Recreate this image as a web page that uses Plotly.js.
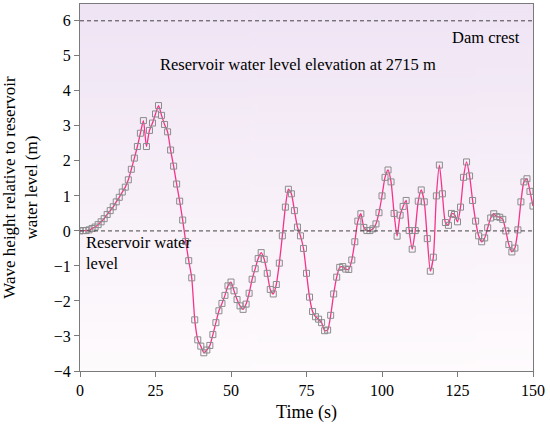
<!DOCTYPE html>
<html>
<head>
<meta charset="utf-8">
<script src="https://cdn.plot.ly/plotly-3.0.1.min.js"></script>
<style>html,body{margin:0;padding:0;background:#fff;}#chart{width:550px;height:426px;}</style>
</head>
<body>
<div id="chart"></div>
<script>
const timeSec = [0,1,2,3,4,5,6,7,8,9,10,11,12,13,14,15,16,17,18,19,20,
21,22,23,24,25,26,27,28,29,30,31,32,33,34,35,36,37,38,39,40,
41,42,43,44,45,46,47,48,49,50,51,52,53,54,55,56,57,58,59,60,
61,62,63,64,65,66,67,68,69,70,71,72,73,74,75,76,77,78,79,80,
81,82,83,84,85,86,87,88,89,90,91,92,93,94,95,96,97,98,99,100,
101,102,103,104,105,106,107,108,109,110,111,112,113,114,115,116,117,118,119,120,
121,122,123,124,125,126,127,128,129,130,131,132,133,134,135,136,137,138,139,140,
141,142,143,144,145,146,147,148,149,150];

const waveHeight = [0,
0.01,0.01,0.03,0.07,0.11,0.18,0.26,0.35,0.47,0.58,
0.69,0.83,0.96,1.11,1.25,1.46,1.76,2.08,2.41,2.79,
3.15,2.41,2.87,3.08,3.34,3.58,3.30,3.04,2.83,2.31,
1.85,1.34,0.85,0.31,-0.30,-0.85,-1.34,-2.54,-3.11,-3.29,
-3.48,-3.40,-3.27,-2.96,-2.62,-2.28,-2.07,-1.84,-1.57,-1.46,
-1.71,-1.96,-2.14,-2.24,-2.09,-1.78,-1.38,-1.08,-0.79,-0.62,
-0.81,-1.21,-1.67,-1.80,-1.53,-0.92,-0.14,0.68,1.19,1.06,
0.58,0.11,-0.14,-0.50,-1.21,-1.89,-2.30,-2.45,-2.52,-2.62,
-2.85,-2.83,-2.41,-1.80,-1.32,-1.04,-1.02,-1.09,-1.10,-0.83,
-0.31,0.28,0.49,0.10,0.01,0.01,0.06,0.20,0.52,1.00,
1.53,1.74,1.40,0.50,-0.15,0.45,0.70,0.87,0.01,-0.52,
0.01,0.85,1.17,0.83,-0.22,-1.15,-0.75,1.00,1.88,1.06,
0.24,0.16,0.50,0.47,0.26,0.68,1.53,1.97,1.57,0.87,
0.28,-0.14,-0.31,-0.20,0.09,0.37,0.49,0.41,0.39,0.33,
0.00,-0.39,-0.60,-0.49,0.03,0.83,1.40,1.49,1.13,0.71];

const xTicks = [0,25,50,75,100,125,150];
const yTicks = [-4,-3,-2,-1,0,1,2,3,4,5,6];
const damCrest = 6;
const reservoirLevel = 0;

// background gradient for the plot area
const cv = document.createElement('canvas');
cv.width = 4; cv.height = 256;
const ctx = cv.getContext('2d');
const g = ctx.createLinearGradient(0,0,0,256);
g.addColorStop(0,'#efe4f4');
g.addColorStop(0.55,'#f8f1f9');
g.addColorStop(1,'#fefbfd');
ctx.fillStyle = g; ctx.fillRect(0,0,4,256);
const bgURL = cv.toDataURL('image/png');

const font = 'Liberation Serif';

const trace = {
  x: timeSec, y: waveHeight,
  type: 'scatter', mode: 'lines+markers',
  line: {color:'#f5338a', width:1.3, shape:'spline', smoothing:0.6},
  marker: {symbol:'square-open', size:6, color:'#8c8c8c', line:{width:1, color:'#8c8c8c'}},
  hoverinfo: 'x+y'
};

const layout = {
  width: 550, height: 426,
  margin: {l:80, r:17, t:4, b:55},
  paper_bgcolor: '#ffffff',
  plot_bgcolor: 'rgba(0,0,0,0)',
  showlegend: false,
  font: {family: font, size: 16, color:'#000'},
  xaxis: {
    range: [0,150], tickvals: xTicks, ticktext: xTicks.map(String),
    showgrid:false, zeroline:false,
    showline:true, linecolor:'#7a7a7a', linewidth:1, mirror:true,
    ticks:'outside', ticklen:5, tickcolor:'#7a7a7a',
    tickfont:{family:font, size:16},
    title:{text:'Time (s)', font:{family:font, size:18}, standoff:7}
  },
  yaxis: {
    range: [-4,6.48], tickvals: yTicks, ticktext: yTicks.map(v => v<0 ? '\u2212'+Math.abs(v) : String(v)),
    showgrid:false, zeroline:false,
    showline:true, linecolor:'#7a7a7a', linewidth:1, mirror:true,
    ticks:'outside', ticklen:5, tickcolor:'#7a7a7a',
    tickfont:{family:font, size:16},
    title:{text:'Wave height relative to reservoir<br>water level (m)', font:{family:font, size:17}, standoff:12}
  },
  images: [{source: bgURL, xref:'paper', yref:'paper', x:0, y:1, sizex:1, sizey:1,
            sizing:'stretch', layer:'below', xanchor:'left', yanchor:'top'}],
  shapes: [
    {type:'line', xref:'paper', x0:0, x1:1, yref:'y', y0:damCrest, y1:damCrest,
     line:{color:'#444', width:1, dash:'4px,3px'}},
    {type:'line', xref:'paper', x0:0, x1:1, yref:'y', y0:reservoirLevel, y1:reservoirLevel,
     line:{color:'#444', width:1, dash:'4px,3px'}}
  ],
  annotations: [
    {text:'Dam crest', x:146.5, y:5.52, xref:'x', yref:'y', xanchor:'right', yanchor:'middle',
     showarrow:false, font:{family:font, size:16.5}},
    {text:'Reservoir water level elevation at 2715 m', x:72.2, y:4.74, xref:'x', yref:'y',
     xanchor:'center', yanchor:'middle', showarrow:false, font:{family:font, size:16.5}},
    {text:'Reservoir water<br>level', x:1.2, y:-0.64, xref:'x', yref:'y', xanchor:'left', yanchor:'middle',
     align:'left', showarrow:false, font:{family:font, size:16.5}}
  ]
};

Plotly.newPlot('chart', [trace], layout, {displayModeBar:false, staticPlot:true});
</script>
</body>
</html>
